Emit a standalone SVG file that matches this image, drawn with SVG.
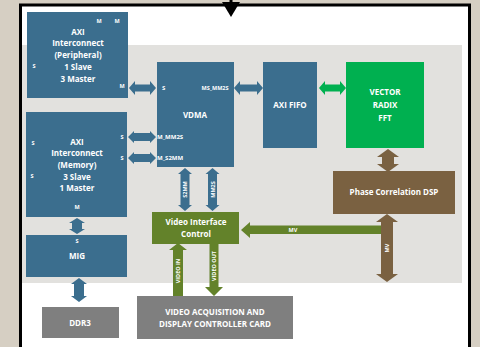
<svg xmlns="http://www.w3.org/2000/svg" width="480" height="347" viewBox="0 0 480 347">
<style>
.t{font-family:"Open Sans","Liberation Sans",sans-serif;font-weight:bold;fill:#ffffff;text-anchor:middle}
.m{font-size:8px}
.s{font-size:5.5px}
.p{font-size:6px;text-anchor:start}
.blue{fill:#3b6e8e}
.green{fill:#00b050}
.olive{fill:#63822a}
.brown{fill:#7a6141}
.grey{fill:#7f7f7f}
</style>
<rect x="0" y="0" width="480" height="347" fill="#d6cfc3"/>
<rect x="20.5" y="5" width="449" height="360" fill="#ffffff" stroke="#000000" stroke-width="3"/>
<rect x="22" y="45" width="440" height="238" fill="#e2e1de"/>
<g id="top-arrow">
<rect x="229.5" y="0" width="3" height="4" fill="#000"/>
<polygon points="222,2 240,2 231,17" fill="#000"/>
</g>
<g id="connectors">
<path class="blue" d="M129,88 L135,81 L135,84.5 L150,84.5 L150,81 L156,88 L150,95 L150,91.5 L135,91.5 L135,95 Z"/>
<path class="blue" d="M234,88 L240,81 L240,84.5 L257,84.5 L257,81 L263,88 L257,95 L257,91.5 L240,91.5 L240,95 Z"/>
<path class="green" d="M319,88 L325,81 L325,84.5 L340,84.5 L340,81 L346,88 L340,95 L340,91.5 L325,91.5 L325,95 Z"/>
<path class="blue" d="M128,137 L134,131 L134,133 L150,133 L150,131 L156,137 L150,143 L150,141 L134,141 L134,143 Z"/>
<path class="blue" d="M128,158 L134,152 L134,154 L150,154 L150,152 L156,158 L150,164 L150,162 L134,162 L134,164 Z"/>
<path class="blue" d="M185,168 L192,174 L189.5,174 L189.5,205 L192,205 L185,211 L178,205 L180.5,205 L180.5,174 L178,174 Z"/>
<path class="blue" d="M212.5,168 L219.5,174 L217,174 L217,205 L219.5,205 L212.5,211 L205.5,205 L208,205 L208,174 L205.5,174 Z"/>
<text class="t s" transform="translate(187,189.5) rotate(-90)">S2MM</text>
<text class="t s" transform="translate(214.5,189.5) rotate(-90)">MM2S</text>
<path class="blue" d="M77,218 L85,223 L82,223 L82,229 L85,229 L77,234 L69,229 L72,229 L72,223 L69,223 Z"/>
<path class="blue" d="M79,278 L87,284 L84,284 L84,296 L87,296 L79,302 L71,296 L74,296 L74,284 L71,284 Z"/>
<path class="brown" d="M388,149 L399,157 L394,157 L394,164 L399,164 L388,172 L377,164 L382,164 L382,157 L377,157 Z"/>
<path class="olive" d="M241,230 L250,222 L250,225.5 L383,225.5 L383,234 L250,234 L250,238 Z"/>
<text class="t s" x="293" y="232">MV</text>
<path class="brown" d="M387,214 L398,222 L393,222 L393,274 L398,274 L387,282 L376,274 L381,274 L381,222 L376,222 Z"/>
<text class="t s" transform="translate(389,248) rotate(-90)">MV</text>
<path class="olive" d="M178,243 L187,250 L183,250 L183,296 L173,296 L173,250 L169,250 Z"/>
<text class="t s" transform="translate(180,271) rotate(-90)">VIDEO IN</text>
<path class="olive" d="M209.5,244 L218.5,244 L218.5,287 L223,287 L214,296 L205,287 L209.5,287 Z"/>
<text class="t s" transform="translate(216,266) rotate(-90)">VIDEO OUT</text>
</g>
<g id="axi-peripheral">
<rect class="blue" x="27" y="12" width="101" height="86"/>
<text class="t m" x="78" y="35">AXI</text>
<text class="t m" x="78" y="46">Interconnect</text>
<text class="t m" x="78" y="58">(Peripheral)</text>
<text class="t m" x="78" y="70">1 Slave</text>
<text class="t m" x="78" y="82">3 Master</text>
<text class="t s" x="99" y="23">M</text>
<text class="t s" x="117" y="23">M</text>
<text class="t s" x="34" y="68">S</text>
<text class="t s" x="122" y="88">M</text>
</g>
<g id="vdma">
<rect class="blue" x="157" y="62" width="77" height="105"/>
<text class="t p" x="162" y="90">S</text>
<text class="t s" x="215" y="90">MS_MM2S</text>
<text class="t m" x="195" y="118">VDMA</text>
<text class="t p" x="157" y="139">M_MM2S</text>
<text class="t p" x="157" y="160">M_S2MM</text>
</g>
<g id="axi-fifo">
<rect class="blue" x="263" y="62" width="54" height="86"/>
<text class="t m" x="290" y="108">AXI FIFO</text>
</g>
<g id="fft">
<rect class="green" x="346" y="62" width="78" height="86"/>
<text class="t m" x="385" y="95">VECTOR</text>
<text class="t m" x="385" y="108">RADIX</text>
<text class="t m" x="385" y="121">FFT</text>
</g>
<g id="axi-memory">
<rect class="blue" x="26" y="112" width="101" height="105"/>
<text class="t m" x="77" y="145">AXI</text>
<text class="t m" x="77" y="156">Interconnect</text>
<text class="t m" x="77" y="168">(Memory)</text>
<text class="t m" x="77" y="180">3 Slave</text>
<text class="t m" x="77" y="191">1 Master</text>
<text class="t s" x="33" y="145">S</text>
<text class="t s" x="32" y="178">S</text>
<text class="t s" x="122" y="139">S</text>
<text class="t s" x="122" y="160">S</text>
<text class="t s" x="77" y="209">M</text>
</g>
<g id="mig">
<rect class="blue" x="26" y="235" width="101" height="42"/>
<text class="t s" x="77" y="243">S</text>
<text class="t m" x="77" y="259">MIG</text>
</g>
<g id="ddr3">
<rect class="grey" x="42" y="307" width="77" height="31"/>
<text class="t m" x="80" y="326">DDR3</text>
</g>
<g id="video-interface">
<rect class="olive" x="152" y="212" width="87" height="32"/>
<text class="t m" x="196" y="225">Video Interface</text>
<text class="t m" x="196" y="237">Control</text>
</g>
<g id="card">
<rect class="grey" x="137" y="296" width="156" height="43"/>
<text class="t m" x="215" y="315">VIDEO ACQUISITION AND</text>
<text class="t m" x="215" y="327">DISPLAY CONTROLLER CARD</text>
</g>
<g id="phase">
<rect class="brown" x="333" y="171" width="122" height="43"/>
<text class="t m" x="394" y="195">Phase Correlation DSP</text>
</g>
</svg>
